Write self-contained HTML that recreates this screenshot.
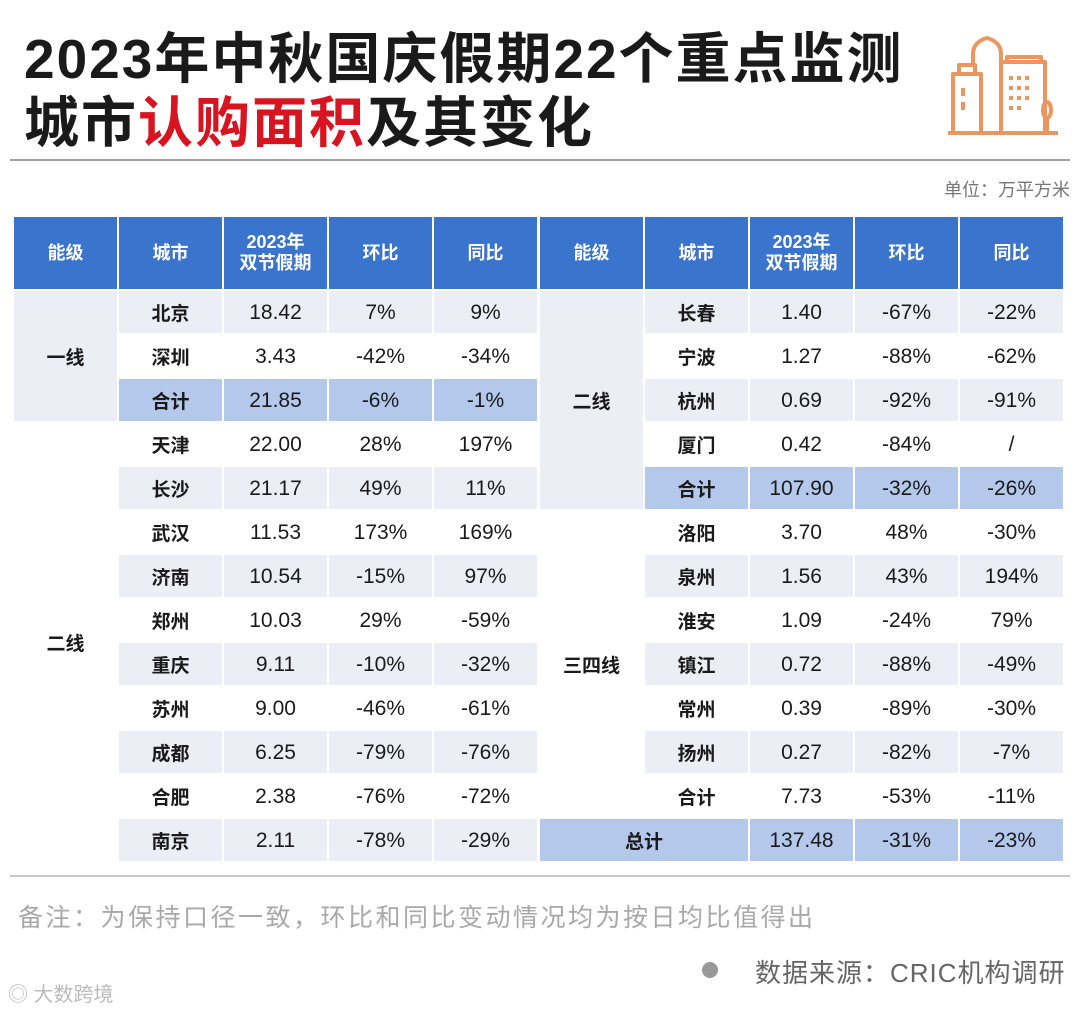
<!DOCTYPE html>
<html><head><meta charset="utf-8">
<style>
body{margin:0;width:1080px;height:1010px;background:#fff;position:relative;overflow:hidden;font-family:"Liberation Sans","Noto Sans CJK SC",sans-serif;}
.a{position:absolute;}
.c{position:absolute;display:flex;align-items:center;justify-content:center;font-size:21px;line-height:1;color:#1a1a1a;box-sizing:border-box;}
.h{background:#3a74cc;color:#fff;font-weight:bold;font-size:18px;line-height:21px;text-align:center;}
.cn{font-weight:bold;font-family:"Noto Sans CJK SC",sans-serif;font-size:19px;}
</style></head><body>
<div class="a" style="left:24px;top:14px;font-size:55px;font-weight:bold;color:#1a1a1a;letter-spacing:2px;white-space:nowrap">2023年中秋国庆假期22个重点监测</div>
<div class="a" style="left:24px;top:78px;font-size:55px;font-weight:bold;color:#1a1a1a;letter-spacing:2px;white-space:nowrap">城市<span style="color:#d7141f">认购面积</span>及其变化</div>
<svg class="a" style="left:945px;top:30px" width="115" height="110" viewBox="0 0 115 110" fill="none" stroke="#e9965f" stroke-width="4" stroke-linejoin="round">
<path d="M8 103V44h28v59M14 44V35h16v9M28 35V24q0-12 14-16q14 4 14 16v8M56 103V32h44v71M62 32v-5h34v5M3 103h110"/>
<path d="M18 58v8M18 72v8M66 46v4M74 46v4M82 46v4M66 56v4M74 56v4M82 56v4M66 66v4M74 66v4M82 66v4M66 76v4M74 76v4" stroke-width="4"/>
<ellipse cx="102" cy="80" rx="4" ry="8"/><path d="M102 88v14"/>
</svg>
<div class="a" style="left:10px;top:159px;width:1060px;height:2px;background:#a0a0a0"></div>
<div class="a" style="right:10px;top:176px;font-size:18px;color:#777">单位：万平方米</div>
<div id="tbl"></div>
<div class="a" style="left:10px;top:875px;width:1060px;height:2px;background:#c8c8c8"></div>
<div class="a" style="left:18px;top:898px;font-size:25px;letter-spacing:2.5px;color:#a8a8a8;white-space:nowrap">备注：为保持口径一致，环比和同比变动情况均为按日均比值得出</div>
<div class="a" style="left:702px;top:962px;width:16px;height:16px;border-radius:50%;background:#999"></div>
<div class="a" style="left:755px;top:953px;font-size:26px;letter-spacing:1px;color:#666;white-space:nowrap">数据来源：CRIC机构调研</div>
<div class="a" style="left:8px;top:978px;font-size:20px;color:#bbb">◎ 大数跨境</div>
<script>
const headers=["能级","城市","2023年<br>双节假期","环比","同比"];
const leftCities=["北京","深圳","合计","天津","长沙","武汉","济南","郑州","重庆","苏州","成都","合肥","南京"];
const leftArea=["18.42","3.43","21.85","22.00","21.17","11.53","10.54","10.03","9.11","9.00","6.25","2.38","2.11"];
const leftMom=["7%","-42%","-6%","28%","49%","173%","-15%","29%","-10%","-46%","-79%","-76%","-78%"];
const leftYoy=["9%","-34%","-1%","197%","11%","169%","97%","-59%","-32%","-61%","-76%","-72%","-29%"];
const leftBg=["g","w","b","w","g","w","g","w","g","w","g","w","g"];
const leftTiers=[["一线",0,3,"g"],["二线",3,10,"w"]];
const rightCities=["长春","宁波","杭州","厦门","合计","洛阳","泉州","淮安","镇江","常州","扬州","合计","总计"];
const rightArea=["1.40","1.27","0.69","0.42","107.90","3.70","1.56","1.09","0.72","0.39","0.27","7.73","137.48"];
const rightMom=["-67%","-88%","-92%","-84%","-32%","48%","43%","-24%","-88%","-89%","-82%","-53%","-31%"];
const rightYoy=["-22%","-62%","-91%","/","-26%","-30%","194%","79%","-49%","-30%","-7%","-11%","-23%"];
const rightBg=["g","w","g","w","b","w","g","w","g","w","g","w","b"];
const rightTiers=[["二线",0,5,"g"],["三四线",5,7,"w"]];
const col={g:"#eceef6",w:"#ffffff",b:"#b3c8eb"};
const T=document.getElementById('tbl');
const top0=216,hh=74,rh=44,cw=105;
function cell(x,y,w,h,txt,cls,bg,name){
 const d=document.createElement('div');d.className='c '+cls;
 d.style.left=(x+1)+'px';d.style.top=(y+1)+'px';d.style.width=(w-2)+'px';d.style.height=(h-2)+'px';
 if(bg)d.style.background=bg;d.innerHTML=txt;
 
 
 T.appendChild(d);}
function side(x0,cities,area,mom,yoy,bg,tiers,p){
 headers.forEach((h,i)=>cell(x0+i*cw,top0,cw,hh,h,'h',null,p+'-header-'+i));
 tiers.forEach(t=>cell(x0,top0+hh+t[1]*rh,cw,t[2]*rh,t[0],'cn',col[t[3]],p+'-tier-cell'));
 cities.forEach((c,i)=>{
  const y=top0+hh+i*rh,b=col[bg[i]];
  if(c==="总计"){cell(x0,y,cw*2,rh,c,'cn',b,p+'-grand-total-label');}
  else cell(x0+cw,y,cw,rh,c,'cn',b,p+'-city-'+i);
  cell(x0+2*cw,y,cw,rh,area[i],'',b,p+'-area-'+i);
  cell(x0+3*cw,y,cw,rh,mom[i],'',b,p+'-mom-'+i);
  cell(x0+4*cw,y,cw,rh,yoy[i],'',b,p+'-yoy-'+i);
 });}
side(13,leftCities,leftArea,leftMom,leftYoy,leftBg,leftTiers,'left');
side(539,rightCities,rightArea,rightMom,rightYoy,rightBg,rightTiers,'right');
</script>
</body></html>
